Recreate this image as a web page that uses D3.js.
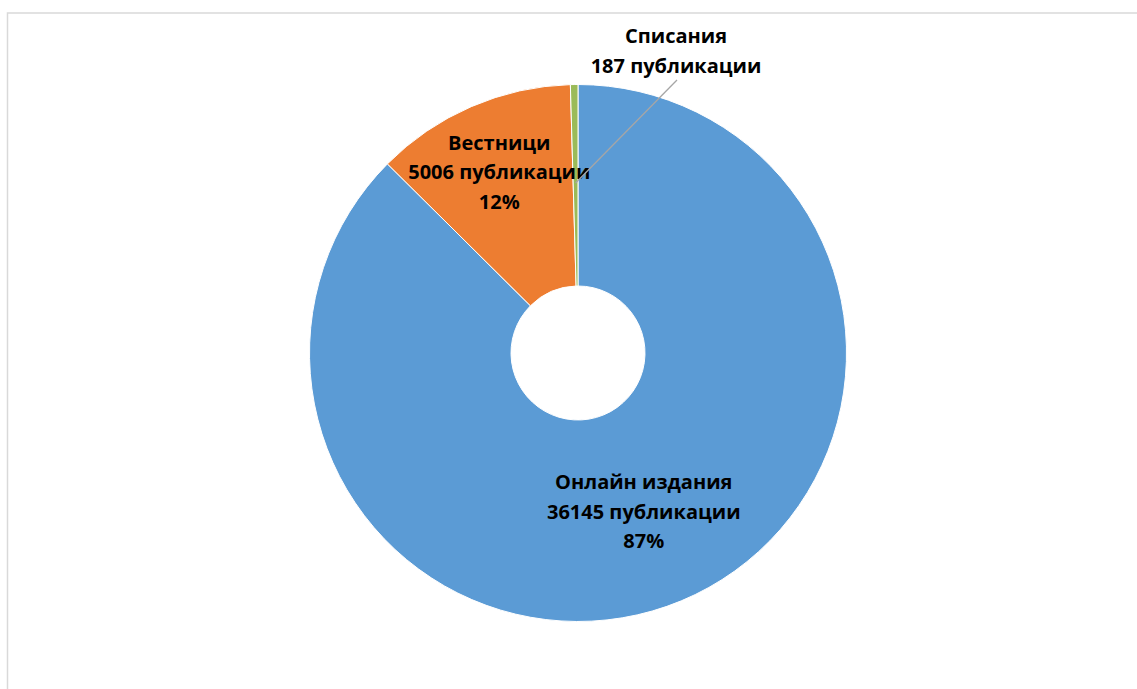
<!DOCTYPE html>
<html>
<head>
<meta charset="utf-8">
<script src="https://cdn.jsdelivr.net/npm/d3@7"></script>
<style>
  html, body { margin: 0; padding: 0; background: #ffffff; }
  svg { display: block; }
  .lbl { font-family: "Open Sans", "Noto Sans", sans-serif; font-weight: 700; fill: #000000; }
</style>
</head>
<body>
<svg id="chart" width="1137" height="689"></svg>
<script>
// Publications by media type
const categories = ["Онлайн издания", "Вестници", "Списания"];
const counts = [36145, 5006, 187];
const percentLabels = ["87%", "12%", null];
const colors = ["#5B9BD5", "#ED7D31", "#9BBB59"];

const W = 1137, H = 689;
const cx = 578, cy = 353;
const outerR = 268.5, innerR = 67;
const fontSize = 20, lineH = 29.5;

const svg = d3.select("#chart");

// chart-area frame (right and bottom edges run past the window)
svg.append("rect")
  .attr("x", 7.5).attr("y", 13)
  .attr("width", W + 20).attr("height", H + 20)
  .attr("fill", "#ffffff")
  .attr("stroke", "#d9d9d9").attr("stroke-width", 1.5);

const data = categories.map((c, i) => ({ name: c, value: counts[i], pct: percentLabels[i], color: colors[i] }));

const pie = d3.pie().value(d => d.value).sort(null);
const arcs = pie(data);
const arc = d3.arc().innerRadius(innerR).outerRadius(outerR);

const g = svg.append("g").attr("transform", `translate(${cx},${cy})`);

g.selectAll("path.slice")
  .data(arcs)
  .join("path")
  .attr("class", "slice")
  .attr("d", arc)
  .attr("fill", d => d.data.color)
  .attr("stroke", "#ffffff")
  .attr("stroke-width", 1);

// label lines for each slice
function lines(d) {
  const out = [d.data.name, d.data.value + " публикации"];
  if (d.data.pct) out.push(d.data.pct);
  return out;
}

// inside labels sit on the ring centroid (the orange one slightly further out)
const labelRadius = [171, 198, null];

arcs.forEach((d, i) => {
  let px, py;
  if (labelRadius[i] !== null) {
    const a = (d.startAngle + d.endAngle) / 2;
    px = Math.sin(a) * labelRadius[i];
    py = -Math.cos(a) * labelRadius[i];
  } else {
    // small slice: label placed above the ring with a leader line
    const a = (d.startAngle + d.endAngle) / 2;
    const r0 = 170;
    const sx = Math.sin(a) * r0, sy = -Math.cos(a) * r0;
    px = 98; py = -303;
    g.append("line")
      .attr("x1", sx).attr("y1", sy)
      .attr("x2", px + 1).attr("y2", py + 30)
      .attr("stroke", "#a6a6a6").attr("stroke-width", 1.3);
  }
  const ls = lines(d);
  const t = g.append("text")
    .attr("class", "lbl")
    .attr("font-size", fontSize)
    .attr("text-anchor", "middle");
  ls.forEach((s, k) => {
    t.append("tspan")
      .attr("x", px)
      .attr("y", py + (k - (ls.length - 1) / 2) * lineH)
      .attr("dy", "0.4em")
      .text(s);
  });
});
</script>
</body>
</html>
